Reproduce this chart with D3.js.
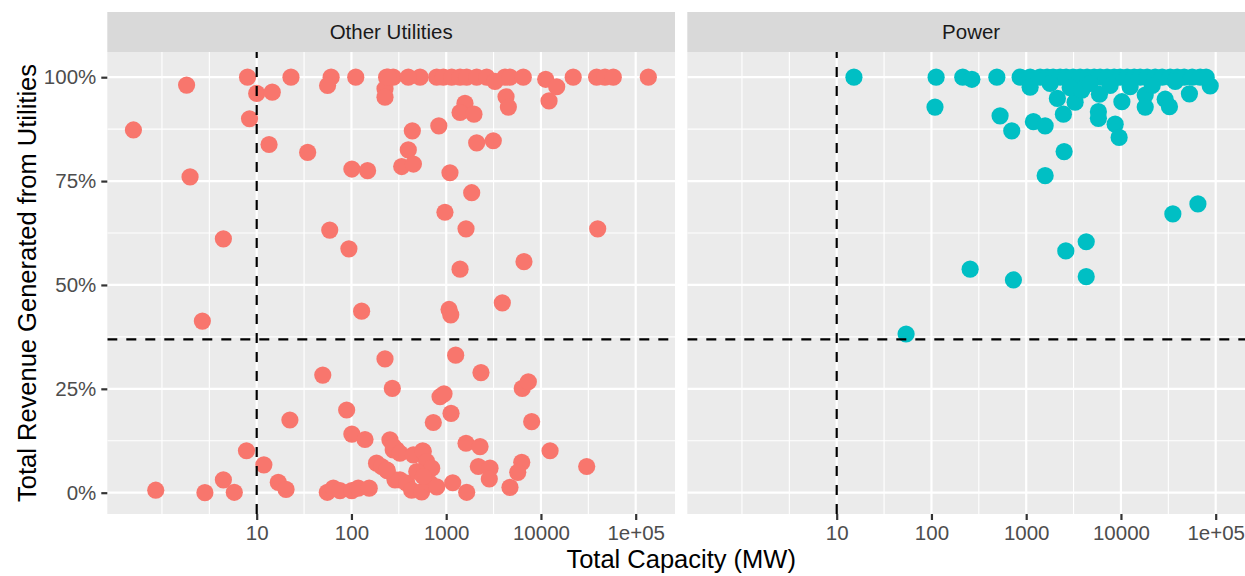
<!DOCTYPE html>
<html>
<head>
<meta charset="utf-8">
<script src="https://cdn.jsdelivr.net/npm/d3@7"></script>
<style>
  html, body { margin: 0; padding: 0; background: #ffffff; }
  svg { display: block; }
  text { font-family: "Liberation Sans", Arial, sans-serif; }
</style>
</head>
<body>
<svg id="chart" width="1245" height="576"></svg>
<script>
// ---------------- DATA ----------------
const facets = ["Other Utilities", "Power"];
const xTickValues = [10, 100, 1000, 10000, 100000];
const xTickLabels = ["10", "100", "1000", "10000", "1e+05"];
const yTickValues = [0, 0.25, 0.5, 0.75, 1];
const yTickLabels = ["0%", "25%", "50%", "75%", "100%"];
const capacityThreshold = 10;
const revenueThreshold = 0.369;

// Other Utilities: capacity (MW) and share of revenue from utilities
const otherCapacity = [
  0.5, 1.82, 8.0, 10, 14.6, 8.4, 23, 13.5, 34.5, 1.98,
  61, 56, 111, 235, 276, 226, 226, 101, 148, 59,
  94, 4.45, 2.67, 530, 794, 933, 1143, 1400, 1645, 2098,
  2675, 3274, 4170, 4710, 6510, 11220, 14660, 21900, 38700, 47400,
  58000, 135900, 12170, 4280, 4530, 1578, 1400, 1963, 836, 439,
  2098, 3140, 398, 339, 451, 1096, 1858, 970, 1619, 39700,
  1400, 6620, 128, 226, 49.8, 270, 89, 22.4, 101, 139,
  255, 276, 7.8, 11.9, 184, 239, 288, 16.9, 20.4, 4.45,
  5.8, 2.84, 0.86, 55.6, 64.4, 75.7, 100.7, 118, 154, 1072,
  1117, 3910, 1259, 2328, 6350, 7360, 861, 948, 1125, 731,
  7980, 300, 565, 1619, 2276, 12480, 30400, 6270, 5690, 4710,
  2183, 2900, 2850, 1645, 1172, 208, 235, 277, 325, 450,
  573, 622, 703, 325, 383, 432, 551, 674, 794, 489,
  573, 398, 244
];
const otherRevenue = [
  0.873, 0.981, 1.0, 0.961, 0.964, 0.90, 1.0, 0.838, 0.819, 0.76,
  1.0, 0.98, 1.0, 1.0, 1.0, 0.972, 0.952, 0.779, 0.775, 0.632,
  0.587, 0.611, 0.413, 1.0, 1.0, 1.0, 1.0, 1.0, 1.0, 1.0,
  1.0, 0.99, 1.0, 1.0, 1.0, 0.995, 0.977, 1.0, 1.0, 1.0,
  1.0, 1.0, 0.943, 0.953, 0.928, 0.937, 0.915, 0.911, 0.883, 0.871,
  0.842, 0.847, 0.825, 0.785, 0.791, 0.770, 0.722, 0.675, 0.635, 0.635,
  0.538, 0.556, 0.437, 0.322, 0.283, 0.251, 0.199, 0.175, 0.141, 0.128,
  0.127, 0.103, 0.101, 0.067, 0.071, 0.053, 0.031, 0.025, 0.008, 0.031,
  0.001, 0.0, 0.006, 0.001, 0.011, 0.005, 0.005, 0.011, 0.011, 0.441,
  0.428, 0.457, 0.331, 0.289, 0.251, 0.267, 0.231, 0.238, 0.191, 0.169,
  0.171, 0.103, 0.101, 0.119, 0.111, 0.101, 0.063, 0.073, 0.049, 0.013,
  0.063, 0.059, 0.033, 0.001, 0.024, 0.063, 0.055, 0.111, 0.095, 0.091,
  0.099, 0.075, 0.059, 0.031, 0.023, 0.006, 0.002, 0.023, 0.014, 0.051,
  0.039, 1.0, 1.0
];

// Power: capacity (MW) and share of revenue from utilities
const powerCapacity = [
  15.2, 112, 109, 214, 267, 256, 490, 530, 704, 863,
  1100, 1100, 1191, 1585, 2513, 1585, 733, 2618, 4300, 4300,
  35300, 64900, 2134, 2470, 3283, 5930, 5780, 5780, 8690, 9570,
  10230, 18040, 18040, 29300, 32500, 52800, 87500, 54,
  1403, 1663, 1924, 2280, 2641, 3129, 3707, 4397, 5210, 6030,
  7150, 8475, 9810, 11640, 13800, 15960, 18930, 22970, 27230, 33100,
  39270, 46470, 56490, 68550, 79290,
  1790, 2910, 3865, 4730, 7690, 12500, 21380, 37400
];
const powerRevenue = [
  1.0, 1.0, 0.928, 1.0, 0.995, 0.538, 1.0, 0.907, 0.871, 1.0,
  1.0, 0.976, 0.893, 0.883, 0.821, 0.763, 0.512, 0.582, 0.604, 0.520,
  0.671, 0.695, 0.949, 0.911, 0.94, 0.959, 0.917, 0.901, 0.887, 0.855,
  0.941, 0.957, 0.928, 0.947, 0.929, 0.96, 0.979, 0.382,
  1.0, 1.0, 1.0, 1.0, 1.0, 1.0, 1.0, 1.0, 1.0, 1.0,
  1.0, 1.0, 1.0, 1.0, 1.0, 1.0, 1.0, 1.0, 1.0, 1.0,
  1.0, 1.0, 1.0, 1.0, 1.0,
  0.985, 0.975, 0.969, 0.985, 0.98, 0.977, 0.98, 0.99
];

const facetColors = ["#F8766D", "#00BFC4"];

// ---------------- LAYOUT ----------------
const svg = d3.select("#chart");
const panelTop = 52, panelBottom = 514;
const stripTop = 12;
const panelLefts = [107.3, 687.3];
const panelWidth = 567.7;

const y = d3.scaleLinear().domain([0, 1]).range([492.7, 77.2]);

function xScaleFor(i) {
  const off = panelLefts[i] - panelLefts[0];
  return d3.scaleLog().domain([10, 100000]).range([256.7 + off, 635.7 + off]);
}

const datasets = [
  d3.zip(otherCapacity, otherRevenue),
  d3.zip(powerCapacity, powerRevenue)
];

const majorX = [1, 2, 3, 4, 5].map(e => Math.pow(10, e));
const minorX = [0, 0.5, 1.5, 2.5, 3.5, 4.5, 5.5].map(e => Math.pow(10, e));
const minorY = [0.125, 0.375, 0.625, 0.875];

facets.forEach((name, i) => {
  const x = xScaleFor(i);
  const left = panelLefts[i], right = left + panelWidth;
  const g = svg.append("g");

  g.append("rect").attr("x", left).attr("y", panelTop)
    .attr("width", panelWidth).attr("height", panelBottom - panelTop)
    .attr("fill", "#EBEBEB");

  const clipId = "clip" + i;
  svg.append("clipPath").attr("id", clipId).append("rect")
    .attr("x", left).attr("y", panelTop)
    .attr("width", panelWidth).attr("height", panelBottom - panelTop);
  const pg = g.append("g").attr("clip-path", `url(#${clipId})`);

  pg.selectAll(".mgx").data(minorX).join("line")
    .attr("x1", d => x(d)).attr("x2", d => x(d))
    .attr("y1", panelTop).attr("y2", panelBottom)
    .attr("stroke", "#FFFFFF").attr("stroke-width", 1.1);
  pg.selectAll(".mgy").data(minorY).join("line")
    .attr("x1", left).attr("x2", right)
    .attr("y1", d => y(d)).attr("y2", d => y(d))
    .attr("stroke", "#FFFFFF").attr("stroke-width", 1.1);
  pg.selectAll(".Mgx").data(majorX).join("line")
    .attr("x1", d => x(d)).attr("x2", d => x(d))
    .attr("y1", panelTop).attr("y2", panelBottom)
    .attr("stroke", "#FFFFFF").attr("stroke-width", 2.2);
  pg.selectAll(".Mgy").data(yTickValues).join("line")
    .attr("x1", left).attr("x2", right)
    .attr("y1", d => y(d)).attr("y2", d => y(d))
    .attr("stroke", "#FFFFFF").attr("stroke-width", 2.2);

  pg.selectAll("circle").data(datasets[i]).join("circle")
    .attr("cx", d => x(d[0])).attr("cy", d => y(d[1]))
    .attr("r", 8.6).attr("fill", facetColors[i]);

  pg.append("line")
    .attr("x1", x(capacityThreshold)).attr("x2", x(capacityThreshold))
    .attr("y1", panelBottom).attr("y2", panelTop)
    .attr("stroke", "#000").attr("stroke-width", 2.2)
    .attr("stroke-dasharray", "10,9");
  pg.append("line")
    .attr("x1", left).attr("x2", right)
    .attr("y1", y(revenueThreshold)).attr("y2", y(revenueThreshold))
    .attr("stroke", "#000").attr("stroke-width", 2.2)
    .attr("stroke-dasharray", "10,9");

  g.append("rect").attr("x", left).attr("y", stripTop)
    .attr("width", panelWidth).attr("height", panelTop - stripTop)
    .attr("fill", "#D9D9D9");
  g.append("text").attr("x", left + panelWidth / 2).attr("y", (stripTop + panelTop) / 2)
    .attr("dy", "0.35em").attr("text-anchor", "middle")
    .attr("font-size", 20.5).attr("fill", "#1A1A1A").text(name);

  const xAxis = d3.axisBottom(x).tickValues(xTickValues)
    .tickFormat((d, j) => xTickLabels[j]).tickSize(6).tickPadding(5);
  const ax = svg.append("g").attr("transform", `translate(0,${panelBottom})`).call(xAxis);
  ax.select(".domain").remove();
  ax.selectAll(".tick line").attr("stroke", "#333333").attr("stroke-width", 2.2);
  ax.selectAll(".tick text").attr("fill", "#4D4D4D").attr("font-size", 20.5)
    .attr("font-family", "Liberation Sans, Arial, sans-serif");
});

const yAxis = d3.axisLeft(y).tickValues(yTickValues)
  .tickFormat((d, j) => yTickLabels[j]).tickSize(6).tickPadding(5);
const ay = svg.append("g").attr("transform", `translate(${panelLefts[0]},0)`).call(yAxis);
ay.select(".domain").remove();
ay.selectAll(".tick line").attr("stroke", "#333333").attr("stroke-width", 2.2);
ay.selectAll(".tick text").attr("fill", "#4D4D4D").attr("font-size", 20.5)
  .attr("font-family", "Liberation Sans, Arial, sans-serif");

svg.append("text").attr("x", (panelLefts[0] + panelLefts[1] + panelWidth) / 2).attr("y", 568)
  .attr("text-anchor", "middle").attr("font-size", 25.5).attr("fill", "#000")
  .text("Total Capacity (MW)");
svg.append("text")
  .attr("transform", `translate(36,${(panelTop + panelBottom) / 2}) rotate(-90)`)
  .attr("text-anchor", "middle").attr("font-size", 25.5).attr("fill", "#000")
  .text("Total Revenue Generated from Utilities");
</script>
</body>
</html>
